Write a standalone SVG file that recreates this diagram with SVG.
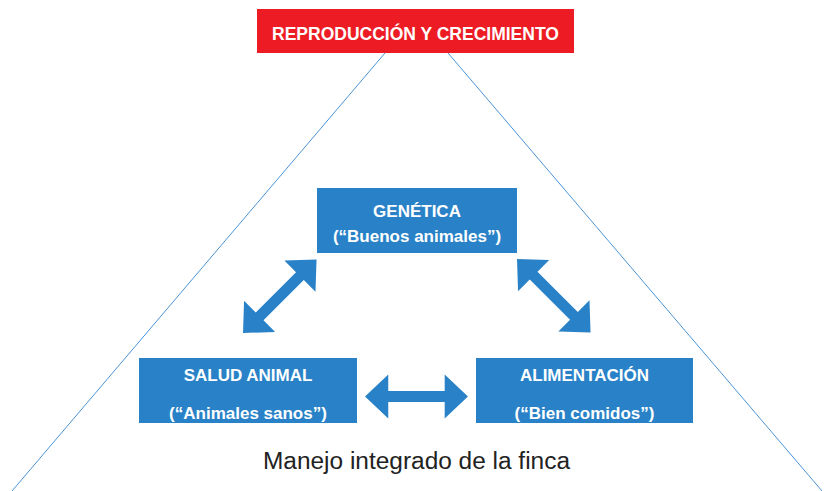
<svg xmlns="http://www.w3.org/2000/svg" width="824" height="491" viewBox="0 0 824 491">
<style>
.line{stroke:#4b93d6;stroke-width:1;fill:none}
.box{fill:#2982c7}
.red{fill:#ed1c24}
.t{font-family:"Liberation Sans",Arial,sans-serif;font-weight:bold;fill:#fff;text-anchor:middle}
.arrow{fill:#2982c7}
.foot{font-family:"Liberation Sans",Arial,sans-serif;fill:#222;text-anchor:middle;font-size:23px}
</style>
<defs>
<path id="dbl" d="M0,0 L23.5,-22 L23.5,-5.5 L80.5,-5.5 L80.5,-22 L104,0 L80.5,22 L80.5,5.5 L23.5,5.5 L23.5,22 Z"/>
</defs>
<rect width="824" height="491" fill="#fff"/>
<g id="connectors">
<line class="line" x1="385" y1="53" x2="12" y2="491"/>
<line class="line" x1="448" y1="53" x2="822" y2="491"/>
<use href="#dbl" class="arrow" transform="translate(243,333) rotate(-45)"/>
<use href="#dbl" class="arrow" transform="translate(517,259) rotate(45)"/>
<use href="#dbl" class="arrow" transform="translate(365,396.5) scale(0.99,1)"/>
</g>
<g id="reproduccion">
<rect class="red" x="257" y="9" width="317" height="44"/>
<text class="t" x="415.5" y="40" font-size="17.5">REPRODUCCIÓN Y CRECIMIENTO</text>
</g>
<g id="genetica">
<rect class="box" x="317" y="188" width="200" height="65"/>
<text class="t" x="417" y="217" font-size="17">GENÉTICA</text>
<text class="t" x="417" y="242" font-size="17">(“Buenos animales”)</text>
</g>
<g id="salud">
<rect class="box" x="139" y="358" width="218" height="65"/>
<text class="t" x="248" y="381" font-size="17">SALUD ANIMAL</text>
<text class="t" x="248" y="419" font-size="17">(“Animales sanos”)</text>
</g>
<g id="alimentacion">
<rect class="box" x="476" y="358" width="217" height="65"/>
<text class="t" x="584.5" y="381" font-size="17">ALIMENTACIÓN</text>
<text class="t" x="584.5" y="419" font-size="17">(“Bien comidos”)</text>
</g>
<g id="manejo">
<text class="foot" x="416.5" y="469" textLength="307" lengthAdjust="spacingAndGlyphs">Manejo integrado de la finca</text>
</g>
</svg>
